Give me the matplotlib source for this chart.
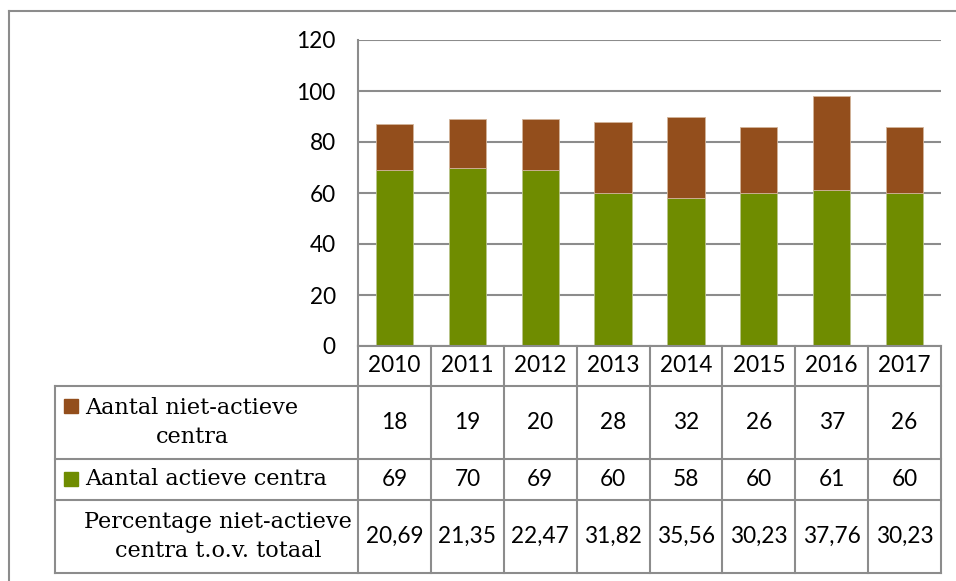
import numpy as np
import matplotlib
matplotlib.use('Agg')
import matplotlib.pyplot as plt
import matplotlib.transforms as mtransforms
from matplotlib.lines import Line2D
from matplotlib.patches import Rectangle

### Data
years = ['2010', '2011', '2012', '2013', '2014', '2015', '2016', '2017']
actief = [69, 70, 69, 60, 58, 60, 61, 60]
niet_actief = [18, 19, 20, 28, 32, 26, 37, 26]
percentage = ['20,69', '21,35', '22,47', '31,82', '35,56', '30,23', '37,76', '30,23']
row_labels = ['Aantal niet-actieve\ncentra', 'Aantal actieve centra',
              'Percentage niet-actieve\ncentra t.o.v. totaal']
yticks = [0, 20, 40, 60, 80, 100, 120]

### Style
brown = '#934E1C'
green = '#6F8C00'
grey = '#8C8C8C'
num_font = 'Lato'
lab_font = 'DejaVu Serif'
fs = 16.3
fs_lab = 16.1

W, H = 956, 581
fig = plt.figure(figsize=(W/100, H/100), dpi=100)

def fx(px):
    return px / W

def fy(py):
    return 1 - py / H

### Outer frame
fig.add_artist(Line2D([fx(9), fx(9)], [fy(11), fy(585)], color=grey, lw=1.5))
fig.add_artist(Line2D([fx(9), fx(960)], [fy(11), fy(11)], color=grey, lw=1.5))

### Bar chart
left, right, top, bottom = 358, 941, 40, 346
ax = fig.add_axes([fx(left), fy(bottom), fx(right - left), (bottom - top) / H])
x = np.arange(len(years))
ax.bar(x, actief, width=0.51, color=green, edgecolor='#B9C48A', lw=0.6, zorder=3)
ax.bar(x, niet_actief, width=0.51, bottom=actief, color=brown,
       edgecolor='#D2B49A', lw=0.6, zorder=3)
ax.set_xlim(-0.5, len(years) - 0.5)
ax.set_ylim(0, 120)
ax.set_yticks(yticks)
ax.set_yticklabels([str(t) for t in yticks], fontsize=fs, fontfamily=num_font)
ax.tick_params(axis='y', length=0, pad=16)
ax.set_xticks([])
ax.grid(axis='y', color=grey, lw=1.5, zorder=0)
for s in ['top', 'right', 'bottom']:
    ax.spines[s].set_visible(False)
ax.spines['left'].set_color(grey)
ax.spines['left'].set_linewidth(1.5)

### Data table under the chart
t_left, t_bottom = 55, 573
row_edges = [346, 386, 459, 500, 573]
tab = fig.add_axes([fx(t_left), fy(t_bottom), fx(right - t_left), (t_bottom - bottom) / H])
tab.set_xlim(t_left, right)
tab.set_ylim(t_bottom, bottom)
tab.axis('off')

# x from the bar axes, y in table pixels
trans = mtransforms.blended_transform_factory(ax.transData, tab.transData)

# horizontal lines
for i, yy in enumerate(row_edges):
    x0 = left if i == 0 else t_left
    tab.plot([x0, right], [yy, yy], color=grey, lw=1.5, clip_on=False)
# vertical lines
tab.plot([t_left, t_left], [row_edges[1], row_edges[-1]], color=grey, lw=1.5, clip_on=False)
for i in range(len(years) + 1):
    tab.plot([i - 0.5, i - 0.5], [row_edges[0], row_edges[-1]], color=grey, lw=1.5,
             transform=trans, clip_on=False)

# header and values
rows = [years, [str(v) for v in niet_actief], [str(v) for v in actief], percentage]
for r, vals in enumerate(rows):
    yc = (row_edges[r] + row_edges[r + 1]) / 2
    for i, v in enumerate(vals):
        tab.text(i, yc, v, transform=trans, ha='center', va='center',
                 fontsize=fs, fontfamily=num_font)

# row labels with legend keys
tab.add_patch(Rectangle((64, 399), 14, 14, color=brown, clip_on=False))
tab.text(192, (row_edges[1] + row_edges[2]) / 2, row_labels[0], ha='center', va='center',
         fontsize=fs_lab, fontfamily=lab_font, linespacing=1.45)
tab.add_patch(Rectangle((64, 472.5), 14, 14, color=green, clip_on=False))
tab.text(85, (row_edges[2] + row_edges[3]) / 2, row_labels[1], ha='left', va='center',
         fontsize=fs_lab, fontfamily=lab_font)
tab.text(218, (row_edges[3] + row_edges[4]) / 2, row_labels[2], ha='center', va='center',
         fontsize=fs_lab, fontfamily=lab_font, linespacing=1.45)

plt.savefig('out.png', dpi=100)
